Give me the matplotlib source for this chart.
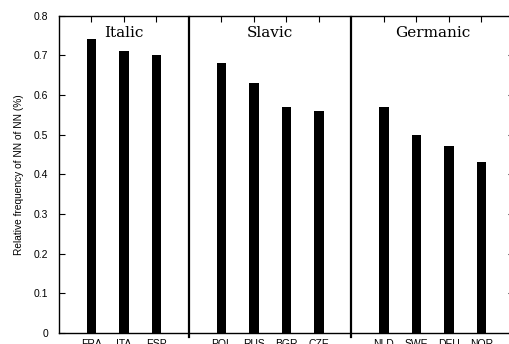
import matplotlib
matplotlib.use("Agg")
import matplotlib.pyplot as plt

# Languages grouped by family
languages = ["FRA", "ITA", "ESP", "POL", "RUS", "BGR", "CZE", "NLD", "SWE", "DEU", "NOR"]
rel_freq = [0.74, 0.71, 0.70, 0.68, 0.63, 0.57, 0.56, 0.57, 0.50, 0.47, 0.43]
families = ["Italic", "Slavic", "Germanic"]
family_sizes = [3, 4, 4]
y_ticks = [0, 0.1, 0.2, 0.3, 0.4, 0.5, 0.6, 0.7, 0.8]
y_tick_labels = ["0", "0.1", "0.2", "0.3", "0.4", "0.5", "0.6", "0.7", "0.8"]

# Positions: one slot per language, one empty slot between families
positions = []
separators = []
centers = []
pos = 1
for i, n in enumerate(family_sizes):
    grp = list(range(pos, pos + n))
    positions.extend(grp)
    centers.append((grp[0] + grp[-1]) / 2)
    pos += n
    if i < len(family_sizes) - 1:
        separators.append(pos)
        pos += 1

fig = plt.figure(figsize=(5.10, 3.44), dpi=100)
W, H = 510, 344
left, right, top, bottom = 59, 514, 15.5, 333
ax = fig.add_axes([left / W, (H - bottom) / H, (right - left) / W, (bottom - top) / H])

ax.bar(positions, rel_freq, width=0.29, color="black", zorder=3)

ax.set_xlim(0, pos)
ax.set_ylim(0, 0.8)

for s in separators:
    ax.plot([s, s], [-0.011, 0.795], color="black", lw=1.6, clip_on=False, zorder=4)

for c, name in zip(centers, families):
    ax.text(c, 0.757, name, ha="center", va="center", fontsize=11,
            family="DejaVu Serif")

ax.set_xticks(positions)
ax.set_xticklabels(languages, fontsize=7.5, family="Liberation Sans")
ax.set_yticks(y_ticks)
ax.set_yticklabels(y_tick_labels, fontsize=7.5, family="Liberation Sans")
ax.tick_params(axis="both", direction="in", length=4, width=0.8,
               top=True, right=True)
for t in ax.yaxis.get_major_ticks():
    t.tick2line.set_markersize(6)
for t in ax.xaxis.get_major_ticks():
    t.tick2line.set_markersize(3)
ax.tick_params(axis="x", pad=4)
ax.tick_params(axis="y", pad=8)

ax.set_ylabel("Relative frequency of NN of NN (%)", fontsize=7.3,
              family="Liberation Sans", labelpad=7)

# the frame's right edge lies just past the canvas
ax.spines["right"].set_visible(False)
for sp in ax.spines.values():
    sp.set_linewidth(1.0)

fig.savefig("out.png", dpi=100)
